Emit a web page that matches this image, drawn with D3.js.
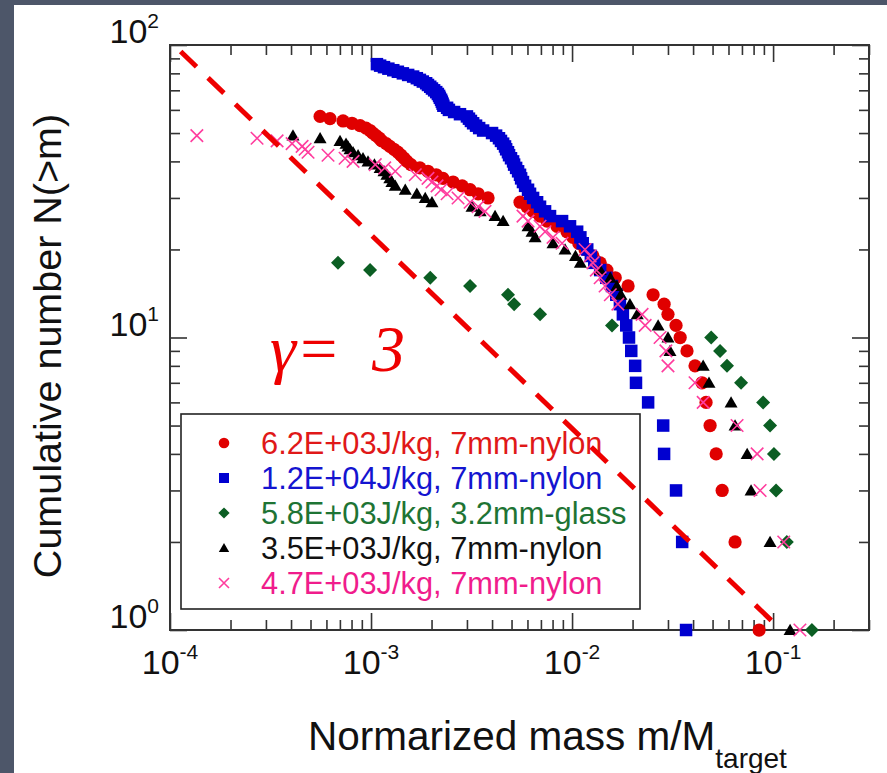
<!DOCTYPE html>
<html><head><meta charset="utf-8">
<script src="https://cdn.jsdelivr.net/npm/d3@7"></script>
<style>body{margin:0;background:#fff}svg{display:block}</style>
</head><body>
<svg id="c" width="887" height="773"></svg>
<script>
// ---------------- DATA ----------------
// Each array: normalized mass m/M_target of the k-th largest fragment (N = index + 1)
const massRed62E3 = [0.0852,0.0647,0.0558,0.0521,0.0486,0.0464,0.0443,0.0409,0.0373,0.0345,
 0.0329,0.0300,0.0287,0.0253,0.0190,0.0164,0.0149,0.0138,0.0127,0.0116,
 0.0108,0.0101,0.00944,0.00842,0.00751,0.00693,0.00640,0.00597,0.00551,0.00382,
 0.00341,0.00311,0.00284,0.00256,0.00228,0.00211,0.00192,0.00175,0.00158,0.00151,
 0.00146,0.00141,0.00136,0.00130,0.00124,0.00119,0.00113,0.00110,0.00106,0.00102,
 0.000989,0.000944,0.000882,0.000804,0.000726,0.000625,0.000558];
const massBlue12E4 = [0.0369,0.0353,0.0329,0.0287,0.0284,0.0239,0.0208,0.0206,0.0197,0.0192,
 0.0186,0.0179,0.0173,0.0166,0.0158,0.0148,0.0138,0.0129,0.0124,0.0119,
 0.0113,0.0110,0.0106,0.00977,0.00892,0.00777,0.00734,0.00693,0.00670,0.00640,
 0.00618,0.00604,0.00584,0.00570,0.00558,0.00551,0.00539,0.00527,0.00515,0.00509,
 0.00497,0.00486,0.00480,0.00470,0.00464,0.00454,0.00443,0.00433,0.00419,0.00400,
 0.00361,0.00345,0.00333,0.00322,0.00314,0.00307,0.00300,0.00277,0.00259,0.00244,
 0.00239,0.00229,0.00227,0.00225,0.00223,0.00220,0.00218,0.00215,0.00211,0.00206,
 0.00201,0.00197,0.00192,0.00188,0.00181,0.00175,0.00169,0.00162,0.00153,0.00144,
 0.00136,0.00129,0.00122,0.00116,0.00111,0.00107];
const massGreen58E3 = [0.156,0.117,0.1035,0.101,0.0966,0.0892,0.0693,0.0590,0.0545,0.0492,
 0.0158,0.00693,0.00515,0.00480,0.00311,0.00197,0.000989,0.000685];
const massBlack35E3 = [0.1215,0.0966,0.0777,0.0743,0.0647,0.0618,0.0480,0.0449,0.0307,0.0300,
 0.0268,0.0211,0.0194,0.0175,0.0167,0.0155,0.0138,0.0110,0.0104,0.00923,
 0.00804,0.00655,0.00632,0.00604,0.00454,0.00414,0.00349,0.00318,0.00201,0.00186,
 0.00169,0.00148,0.00132,0.00127,0.00124,0.00120,0.00116,0.00111,0.00104,0.000966,
 0.000912,0.000862,0.000814,0.000786,0.000768,0.000751,0.000701,0.000558,0.000409];
const massPink47E3 = [0.136,0.113,0.0862,0.0833,0.0662,0.0449,0.0409,0.0300,0.0293,0.0274,
 0.0231,0.0223,0.0169,0.0155,0.0146,0.0138,0.0132,0.0127,0.0123,0.0116,
 0.00892,0.00804,0.00734,0.00693,0.00604,0.00570,0.00369,0.00341,0.00311,0.00271,
 0.00239,0.00223,0.00213,0.00201,0.00192,0.00166,0.00132,0.00117,0.00105,0.000814,
 0.000743,0.000611,0.000486,0.000470,0.000454,0.000405,0.000341,0.000271,0.000136];

const seriesLabels = ["6.2E+03J/kg, 7mm-nylon","1.2E+04J/kg, 7mm-nylon","5.8E+03J/kg, 3.2mm-glass",
                      "3.5E+03J/kg, 7mm-nylon","4.7E+03J/kg, 7mm-nylon"];
const seriesData = [massRed62E3, massBlue12E4, massGreen58E3, massBlack35E3, massPink47E3];
const seriesShapes = ["circle","square","diamond","triangle","cross"];
const markerColors = ["#e00000","#0000d0","#0b5e23","#000000","#ff3d9e"];
const labelColors  = ["#e01818","#1414d0","#1e7434","#111111","#f01c8c"];

const xMajorTicks = [1e-4,1e-3,1e-2,1e-1];
const xMajorExp = ["-4","-3","-2","-1"];
const yMajorTicks = [1,10,100];
const yMajorExp = ["0","1","2"];

const gammaLineMass = [1.13e-4, 0.105];
const gammaLineN = [95, 1.03];
const gammaText = ["γ=", "3"];

const xTitle = "Normarized mass m/M", xTitleSub = "target";
const yTitle = "Cumulative number N(>m)";

// ---------------- DRAW ----------------
const svg = d3.select("#c");
svg.append("rect").attr("width",887).attr("height",773).attr("fill","#4d5669");
svg.append("rect").attr("x",14).attr("y",5).attr("width",873).attr("height",768).attr("fill","#ffffff");

const L=170, R=869, T=45, B=630;
const x = d3.scaleLog().domain([1e-4,0.3]).range([L,R]);
const y = d3.scaleLog().domain([1,100]).range([B,T]);

const isMajor = v => Math.abs(Math.log10(v) - Math.round(Math.log10(v))) < 1e-6;
const xMinor = x.ticks().filter(v => !isMajor(v));
const yMinor = y.ticks().filter(v => !isMajor(v));

function styleAxis(g){
  g.select(".domain").remove();
  g.selectAll("line").attr("stroke","#333").attr("stroke-width",1.6);
  g.selectAll("text").remove();
}
const MIN=10, MAJ=17;
svg.append("g").attr("transform",`translate(0,${B})`).call(d3.axisBottom(x).tickValues(xMinor).tickSize(-MIN)).call(styleAxis);
svg.append("g").attr("transform",`translate(0,${B})`).call(d3.axisBottom(x).tickValues(xMajorTicks).tickSize(-MAJ)).call(styleAxis);
svg.append("g").attr("transform",`translate(0,${T})`).call(d3.axisTop(x).tickValues(xMinor).tickSize(-MIN)).call(styleAxis);
svg.append("g").attr("transform",`translate(0,${T})`).call(d3.axisTop(x).tickValues(xMajorTicks).tickSize(-MAJ)).call(styleAxis);
svg.append("g").attr("transform",`translate(${L},0)`).call(d3.axisLeft(y).tickValues(yMinor).tickSize(-MIN)).call(styleAxis);
svg.append("g").attr("transform",`translate(${L},0)`).call(d3.axisLeft(y).tickValues(yMajorTicks).tickSize(-MAJ)).call(styleAxis);
svg.append("g").attr("transform",`translate(${R},0)`).call(d3.axisRight(y).tickValues(yMinor).tickSize(-MIN)).call(styleAxis);
svg.append("g").attr("transform",`translate(${R},0)`).call(d3.axisRight(y).tickValues(yMajorTicks).tickSize(-MAJ)).call(styleAxis);

svg.append("rect").attr("x",L).attr("y",T).attr("width",R-L).attr("height",B-T)
  .attr("fill","none").attr("stroke","#333").attr("stroke-width",2);

const FONT = "'Liberation Sans', Arial, sans-serif";
// x tick labels
xMajorTicks.forEach((v,i)=>{
  const t = svg.append("text").attr("x",x(v)).attr("y",674).attr("text-anchor","middle")
    .attr("font-family",FONT).attr("font-size",34).attr("fill","#111");
  t.append("tspan").text("10");
  t.append("tspan").attr("font-size",21).attr("dy",-15).text(xMajorExp[i]);
});
// y tick labels
yMajorTicks.forEach((v,i)=>{
  const t = svg.append("text").attr("x",159).attr("y",y(v)-2).attr("text-anchor","end")
    .attr("font-family",FONT).attr("font-size",34).attr("fill","#111");
  t.append("tspan").text("10");
  t.append("tspan").attr("font-size",21).attr("dy",-15).text(yMajorExp[i]);
});

// titles
const xt = svg.append("text").attr("x",308).attr("y",750).attr("font-family",FONT)
  .attr("font-size",40.5).attr("fill","#111");
xt.append("tspan").text(xTitle);
xt.append("tspan").attr("font-size",28).attr("dy",18).text(xTitleSub);
svg.append("text").attr("transform","translate(61,346) rotate(-90)").attr("text-anchor","middle")
  .attr("font-family",FONT).attr("font-size",39.5).attr("fill","#111").text(yTitle);

// markers
function marker(g, shape, color, s){
  if(shape==="circle") g.append("circle").attr("r",s*0.53).attr("fill",color);
  else if(shape==="square") g.append("rect").attr("x",-s/2).attr("y",-s/2).attr("width",s).attr("height",s).attr("fill",color);
  else if(shape==="diamond") g.append("path").attr("d",`M0,${-s*0.56}L${s*0.56},0L0,${s*0.56}L${-s*0.56},0Z`).attr("fill",color);
  else if(shape==="triangle") g.append("path").attr("d",`M0,${-s*0.5}L${s*0.52},${s*0.4}L${-s*0.52},${s*0.4}Z`).attr("fill",color);
  else if(shape==="cross") g.append("path").attr("d",`M${-s/2},${-s/2}L${s/2},${s/2}M${-s/2},${s/2}L${s/2},${-s/2}`)
      .attr("stroke",color).attr("stroke-width",1.6).attr("fill","none");
}
seriesData.forEach((arr,si)=>{
  const g = svg.append("g");
  arr.forEach((m,i)=>{
    const p = g.append("g").attr("transform",`translate(${x(m)},${y(i+1)})`);
    marker(p, seriesShapes[si], markerColors[si], 12.5);
  });
});

// legend
const lg = svg.append("g");
lg.append("rect").attr("x",181).attr("y",414).attr("width",459).attr("height",195)
  .attr("fill","#fff").attr("stroke","#222").attr("stroke-width",1.6);
seriesLabels.forEach((lab,i)=>{
  const cy = 443 + i*35;
  const p = lg.append("g").attr("transform",`translate(224,${cy})`);
  marker(p, seriesShapes[i], markerColors[i], 10);
  lg.append("text").attr("x",261).attr("y",cy+10.5).attr("font-family",FONT).attr("font-size",30.8)
    .attr("fill",labelColors[i]).text(lab);
});

// gamma = 3 reference line
const line = d3.line().x((d,i)=>x(d)).y((d,i)=>y(gammaLineN[i]));
svg.append("path").datum(gammaLineMass).attr("d",line).attr("fill","none")
  .attr("stroke","#ee0000").attr("stroke-width",5).attr("stroke-dasharray","22,16");
const gt = svg.append("text").attr("x",270).attr("y",371).attr("font-family","'Liberation Serif', 'Times New Roman', serif")
  .attr("font-style","italic").attr("font-size",66).attr("fill","#ee0000");
gt.append("tspan").text(gammaText[0]);
gt.append("tspan").attr("x",372).text(gammaText[1]);
</script>
</body></html>
